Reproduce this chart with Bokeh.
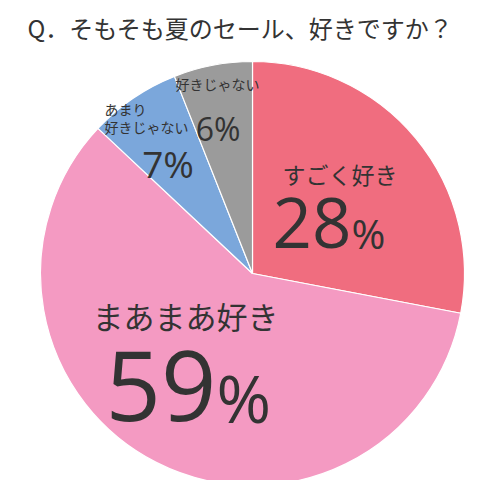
import math
from bokeh.plotting import figure
from bokeh.models import Range1d, ColumnDataSource
from bokeh.core.properties import value
from bokeh.embed import file_html
from bokeh.resources import INLINE

# ---- data ----
title_text = "Q．そもそも夏のセール、好きですか？"
categories = ["すごく好き", "まあまあ好き", "あまり\n好きじゃない", "好きじゃない"]
values = [28, 59, 7, 6]
colors = ["#F06D7F", "#F49AC2", "#7BA7DB", "#9B9B9B"]

W, H = 483, 480
def X(px):  # reference picture x -> data x
    return px
def Y(py):  # reference picture y -> data y
    return H - py

p = figure(width=W, height=H, output_backend="svg", toolbar_location=None,
           x_range=Range1d(0, W), y_range=Range1d(0, H),
           x_axis_location=None, y_axis_location=None, min_border=0)
p.grid.visible = False
p.outline_line_color = None
p.background_fill_color = "white"

# wedges, clockwise from 12 o'clock
total = sum(values)
starts, ends = [], []
acc = 0
for v in values:
    starts.append(math.pi / 2 - 2 * math.pi * acc / total)
    acc += v
    ends.append(math.pi / 2 - 2 * math.pi * acc / total)
src = ColumnDataSource(dict(start=starts, end=ends, color=colors))
cx, cy, r = X(252), Y(273), 212
p.wedge(x=cx, y=cy, radius=r, start_angle="start", end_angle="end",
        direction="clock", fill_color="color", line_color="white",
        line_width=1.2, source=src)

JP = value("Noto Sans CJK JP")
NUM = value("Open Sans")
TXT = "#333333"

def txt(x, y, s, size, font=JP, align="center", baseline="middle"):
    p.text(x=[X(x)], y=[Y(y)], text=[s], text_font=font,
           text_font_size=f"{size}px", text_color=TXT,
           text_align=align, text_baseline=baseline)

def jp(x, y, s, size, align="center"):
    txt(x, y - 0.17 * size, s, size, align=align)

def num(x, y, s, size, align):
    # y: wanted digit baseline
    txt(x, y - 0.36 * size, s, size, font=NUM, align=align, baseline="alphabetic")

# title
jp(27, 31, title_text, 24, align="left")

# category labels
jp(339.5, 177, categories[0], 23)
jp(185, 320, categories[1], 31)
lines = categories[2].split("\n")
jp(104, 111, lines[0], 14, align="left")
jp(104, 128.5, lines[1], 14, align="left")
jp(217, 86, categories[3], 14)

# percentages
num(351, 247, f"{values[0]}", 69, "right")
num(351, 247, "%", 41, "left")
num(216, 420, f"{values[1]}", 97, "right")
num(216, 420, "%", 66, "left")
num(167.5, 176, f"{values[2]}%", 37, "center")
num(217.5, 140, f"{values[3]}%", 32, "center")

open("out.html", "w").write(file_html(p, INLINE))
